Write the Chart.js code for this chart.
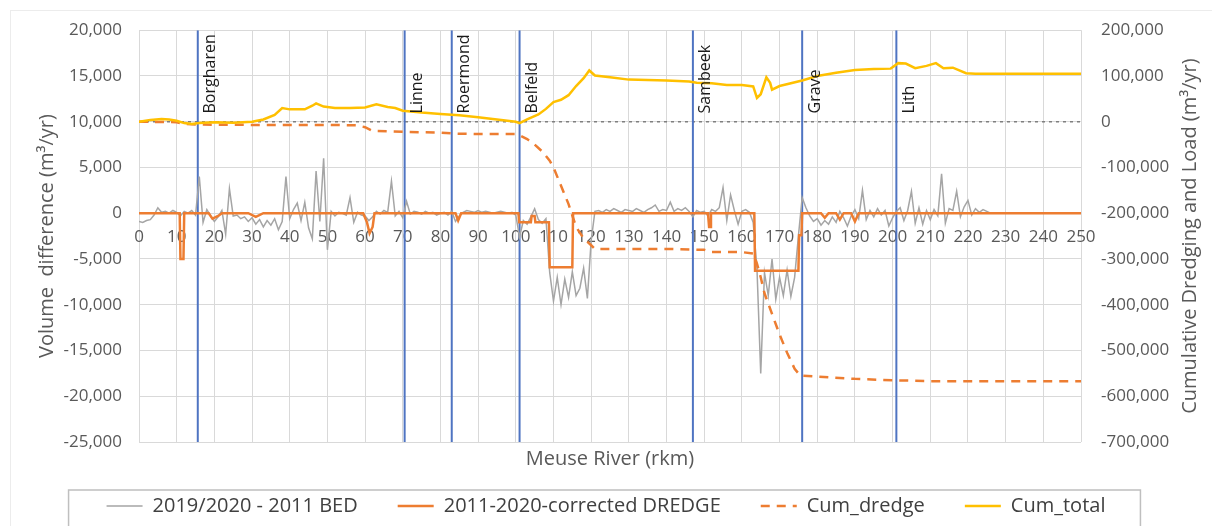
<!DOCTYPE html>
<html>
<head>
<meta charset="utf-8">
<script src="https://cdn.jsdelivr.net/npm/chart.js@4.4.1/dist/chart.umd.min.js"></script>
<style>
  html, body { margin: 0; padding: 0; background: #fff; }
  #wrap { width: 1212px; height: 526px; }
</style>
</head>
<body>
<div id="wrap"><canvas id="myChart" width="1212" height="526"></canvas></div>
<script>
// bed volume difference, one value per river km starting at km 0
const bedVal = [
  -900, -1000, -800, -700, -200, 600, 100, 200, 0, 300,
  100, -300, 200, 0, 300, -200, 4000, -1000, 400, -300,
  -900, -400, 300, -2300, 2700, -300, -200, -600, -400, -900,
  -500, -1200, -700, -1500, -800, -1300, -600, -1800, -900, 4000,
  -600, 400, 1100, -800, 1200, -1600, -2800, 4600, -900, 6000,
  -4000, 200, -300, 100, 0, -200, 1700, -1000, 100, -200,
  -300, -800, -400, 200, -100, 300, 100, 3500, -300, 200,
  -500, 1300, -100, 200, 100, -100, 200, 0, 100, -200,
  0, 100, -200, 200, -900, -300, 100, 300, 200, 100,
  300, 100, 200, 100, 0, 100, 200, 100, 0, 100,
  -200, -2600, -800, -1200, -400, 500, -700, -1100, -600, -6500,
  -9600, -7000, -10000, -7200, -9200, -6400, -9000, -8200, -6000, -9300,
  -3000, 200, 300, 100, 400, 200, 500, 300, 100, 400,
  300, 200, 500, 300, 100, 400, 600, 900, 200, 400,
  300, 1200, 200, 500, 300, 600, 200, -400, 300, 100,
  200, -300, 400, 200, 600, 2800, -800, 2000, 300, -1200,
  200, 400, 100, -1000, -6000, -17500, -6500, -9000, -5000, -9400,
  -7000, -9000, -6200, -9100, -7000, -2500, 1700, 600, -300, -900,
  -600, -1300, -800, -1200, -400, -1000, 200, -500, -1400, -300,
  400, -600, 2500, -700, 300, -400, 500, -200, 300, -1400,
  -500, 200, 600, -800, 300, 2400, -1100, 600, -1200, 300,
  -700, 400, -300, 4300, -1100, 500, 300, 2400, -400, 700,
  1400, -200, 500, 100, 400, 200, 0
];
const bedKm = bedVal.map((v, i) => i);

// corrected dredging volumes (step line)
const dredgeKm = [0, 10.8, 11, 11.8, 12, 18.5, 19.5, 21, 22, 29, 31, 33,
  59.5, 60.5, 61.2, 62, 62.5, 84, 84.7, 85.5, 100.7, 100.9, 104, 104.2, 105, 105.2,
  108.8, 109, 115, 115.2, 151, 151.3, 151.6, 151.8, 163.3, 163.5, 175, 175.2, 175.8, 176,
  181, 182, 183, 185, 186, 187, 189, 190, 191, 250];
const dredgeVal = [0, 0, -5000, -5000, 0, 0, -600, -300, 0, 0, -400, 0,
  0, -1000, -2200, -1500, 0, 0, -800, 0, 0, -1000, -1000, -300, -300, -1000,
  -1000, -5900, -5900, 0, 0, -1500, -1500, 0, 0, -6300, -6300, -2400, -2400, 0,
  0, -500, 0, 0, -700, 0, 0, -900, 0, 0];

// cumulative dredging
const cumDredgeKm = [0, 10, 12, 15, 20, 30, 40, 50, 58, 60, 62, 70, 80, 84, 90, 100,
  101, 103, 105, 107, 109, 110, 112, 114, 115, 116, 118, 120, 121, 130, 140, 150, 152,
  160, 163, 164, 165, 166, 168, 170, 172, 174, 175.5, 180, 190, 200, 210, 250];
const cumDredgeVal = [0, -1000, -5000, -6000, -6500, -7000, -7000, -7000, -8000, -12000,
  -20000, -22000, -24000, -26000, -27000, -27000, -30000, -38000, -50000, -65000, -85000,
  -100000, -140000, -180000, -205000, -230000, -255000, -270000, -278000, -278000, -278000,
  -280000, -285000, -285000, -288000, -310000, -340000, -375000, -420000, -465000, -505000,
  -540000, -555000, -557000, -562000, -565000, -567000, -567000];

// cumulative total load
const cumTotalKm = [0, 3, 6, 8, 10, 12, 14, 16, 20, 25, 30, 33, 36, 38, 40, 44, 46, 47,
  49, 52, 56, 60, 63, 66, 68, 70, 75, 80, 85, 90, 95, 100, 101, 103, 106, 108, 110, 112,
  114, 116, 118, 119.5, 121, 125, 130, 140, 146, 148, 152, 156, 160, 163, 164, 165, 166.5,
  167.5, 168, 170, 173, 176, 180, 185, 190, 195, 199.5, 201.5, 203.5, 206, 209, 211.5,
  213.5, 216, 219.5, 222, 250];
const cumTotalVal = [0, 4000, 6000, 5000, 2000, -3000, -5000, -3000, -1000, -2000, 0,
  5000, 15000, 30000, 27000, 27000, 35000, 40000, 33000, 30000, 30000, 31000, 38000,
  32000, 30000, 24000, 20000, 17000, 14000, 10000, 5000, 0, -3000, 5000, 16000, 28000,
  43000, 48000, 58000, 78000, 95000, 112000, 101000, 97000, 92000, 90000, 88000, 85000,
  84000, 80000, 80000, 77000, 52000, 60000, 97000, 85000, 70000, 78000, 84000, 90000,
  100000, 107000, 113000, 115000, 116000, 128000, 127000, 117000, 122000, 128000,
  117000, 118000, 106000, 105000, 105000];

// weirs / locations along the river
const stationNames = ['Borgharen', 'Linne', 'Roermond', 'Belfeld', 'Sambeek', 'Grave', 'Lith'];
const stationKm = [15.6, 70.5, 83, 101, 147, 176, 201];

const leftMin = -25000, leftMax = 20000;
const rightMin = -700000, rightMax = 200000;
const kmMin = 0, kmMax = 250;

const tickColor = '#595959';
const gridColor = '#d9d9d9';
Chart.defaults.font.family = "'Open Sans', sans-serif";

function pts(xs, ys) {
    return xs.map((x, i) => ({x: x, y: ys[i]}));
}

function fmt(v) {
    return Number(v).toLocaleString('en-US');
}

const datasets = [
    {label: '2019/2020 - 2011 BED', data: pts(bedKm, bedVal), borderColor: '#a5a5a5', borderWidth: 1.5, yAxisID: 'y', order: 4},
    {label: '2011-2020-corrected DREDGE', data: pts(dredgeKm, dredgeVal), borderColor: '#ed7d31', borderWidth: 2.5, yAxisID: 'y', order: 3},
    {label: 'Cum_dredge', data: pts(cumDredgeKm, cumDredgeVal), borderColor: '#ed7d31', borderWidth: 2.5, borderDash: [9, 7], yAxisID: 'y2', order: 2},
    {label: 'Cum_total', data: pts(cumTotalKm, cumTotalVal), borderColor: '#ffc000', borderWidth: 2.5, yAxisID: 'y2', order: 1}
];
stationKm.forEach((km, i) => {
    datasets.push({label: stationNames[i], data: [{x: km, y: leftMax}, {x: km, y: leftMin}],
        borderColor: '#4f74c2', borderWidth: 2, yAxisID: 'y', order: 5});
});
datasets.push({label: 'zero', data: [{x: kmMin, y: 0}, {x: kmMax, y: 0}],
    borderColor: '#7f7f7f', borderWidth: 1.5, borderDash: [3, 4], yAxisID: 'y2', order: 6});
datasets.forEach(d => { d.xAxisID = 'x'; d.pointRadius = 0; d.fill = false; });

const stationLabels = {
    id: 'stationLabels',
    afterDatasetsDraw(chart) {
        const ctx = chart.ctx;
        const xs = chart.scales.x, ys = chart.scales.y;
        ctx.save();
        ctx.font = "16px 'Open Sans', sans-serif";
        ctx.fillStyle = '#1a1a1a';
        ctx.textAlign = 'left';
        ctx.textBaseline = 'middle';
        stationNames.forEach((name, i) => {
            const px = xs.getPixelForValue(stationKm[i]) + 13;
            const py = ys.getPixelForValue(10900);
            ctx.save();
            ctx.translate(px, py);
            ctx.rotate(-Math.PI / 2);
            ctx.fillText(name, 0, 0);
            ctx.restore();
        });
        ctx.restore();
    }
};

const extras = {
    id: 'extras',
    afterDraw(chart) {
        const ctx = chart.ctx;
        const area = chart.chartArea;
        ctx.save();
        // right axis title, reading bottom to top
        ctx.font = "20px 'Open Sans', sans-serif";
        ctx.fillStyle = tickColor;
        ctx.textAlign = 'center';
        ctx.textBaseline = 'middle';
        ctx.translate(1190, (area.top + area.bottom) / 2);
        ctx.rotate(-Math.PI / 2);
        ctx.fillText('Cumulative Dredging and Load (m³/yr)', 0, 0);
        ctx.restore();

        // legend frame
        const hb = chart.legend.legendHitBoxes;
        if (hb && hb.length) {
            const last = hb[hb.length - 1];
            ctx.save();
            ctx.strokeStyle = '#bfbfbf';
            ctx.lineWidth = 1.5;
            ctx.strokeRect(hb[0].left - 38, chart.legend.top + 4, last.left + last.width - hb[0].left + 73, 60);
            // outer chart frame
            ctx.strokeStyle = '#ececec';
            ctx.lineWidth = 1;
            ctx.strokeRect(10.5, 10.5, 1400, 600);
            ctx.restore();
        }
    }
};

const ctx = document.getElementById('myChart');
const myChart = new Chart(ctx, {
    type: 'line',
    data: {datasets: datasets},
    plugins: [stationLabels, extras],
    options: {
        responsive: false,
        animation: false,
        devicePixelRatio: 1,
        layout: {padding: {top: 26, left: 0, right: 0, bottom: 0}},
        elements: {line: {tension: 0}},
        plugins: {
            tooltip: {enabled: false},
            legend: {
                position: 'bottom',
                labels: {
                    usePointStyle: true,
                    pointStyle: 'line',
                    pointStyleWidth: 36,
                    padding: 10,
                    color: '#404040',
                    font: {size: 20},
                    filter: item => item.datasetIndex < 4,
                    sort: (a, b) => a.datasetIndex - b.datasetIndex,
                    generateLabels: function(chart) {
                        const items = Chart.defaults.plugins.legend.labels.generateLabels(chart);
                        items.forEach(it => {
                            const ds = chart.data.datasets[it.datasetIndex];
                            it.lineDash = ds.borderDash || [];
                            it.lineWidth = ds.borderWidth;
                            it.strokeStyle = ds.borderColor;
                            if (it.datasetIndex < 3) it.text = it.text + '\u2002\u2002\u2002';
                        });
                        return items;
                    }
                }
            }
        },
        scales: {
            x: {
                type: 'linear',
                position: {y: 0},
                min: kmMin,
                max: kmMax,
                ticks: {stepSize: 10, color: tickColor, font: {size: 17}, padding: 14, maxRotation: 0, autoSkip: false},
                grid: {color: gridColor, drawTicks: false},
                border: {display: false}
            },
            x2: {
                type: 'linear',
                position: 'bottom',
                min: kmMin,
                max: kmMax,
                ticks: {display: false},
                grid: {display: false},
                border: {display: false},
                title: {display: true, text: 'Meuse River (rkm)', color: tickColor, font: {size: 20}, padding: {top: 0, bottom: 15}},
                afterFit: s => { s.height = 44; }
            },
            y: {
                position: 'left',
                min: leftMin,
                max: leftMax,
                ticks: {stepSize: 5000, color: tickColor, font: {size: 17}, padding: 17, callback: fmt},
                grid: {color: gridColor, drawTicks: false},
                border: {display: false},
                title: {display: true, text: 'Volume  difference (m³/yr)', color: tickColor, font: {size: 20}, padding: {top: 35, bottom: 0}},
                afterFit: s => { s.width = 139; }
            },
            y2: {
                position: 'right',
                min: rightMin,
                max: rightMax,
                ticks: {stepSize: 100000, color: tickColor, font: {size: 17}, padding: 20, callback: fmt},
                grid: {display: false, drawTicks: false},
                border: {display: false},
                afterFit: s => { s.width = 131; }
            }
        }
    }
});
</script>
</body>
</html>
